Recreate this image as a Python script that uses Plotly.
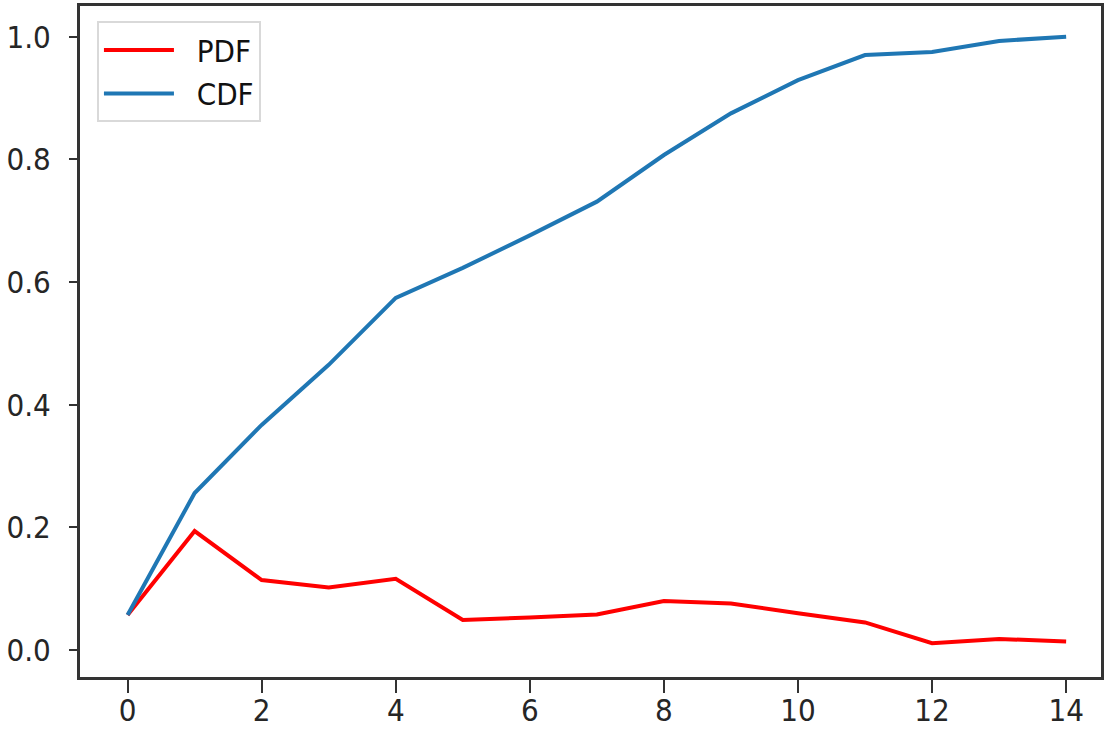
import plotly.graph_objects as go

x_vals = list(range(15))
pdf_vals = [0.057, 0.194, 0.114, 0.102, 0.116, 0.049, 0.053, 0.058, 0.080, 0.076, 0.060, 0.045, 0.011, 0.018, 0.014]
cdf_vals = [0.057, 0.256, 0.367, 0.465, 0.574, 0.623, 0.676, 0.731, 0.807, 0.875, 0.929, 0.970, 0.975, 0.993, 1.000]
x_ticks = [0, 2, 4, 6, 8, 10, 12, 14]
y_ticks = [0.0, 0.2, 0.4, 0.6, 0.8, 1.0]
y_tick_text = ["0.0", "0.2", "0.4", "0.6", "0.8", "1.0"]
series_names = ["PDF", "CDF"]

FONT = "DejaVu Sans Condensed, DejaVu Sans, sans-serif"
SPINE = "#333333"
PAD = "\u00a0\u00a0"

fig = go.Figure()
fig.add_trace(go.Scatter(x=x_vals, y=pdf_vals, mode="lines", name=PAD + series_names[0],
                         line=dict(color="#ff0000", width=4)))
fig.add_trace(go.Scatter(x=x_vals, y=cdf_vals, mode="lines", name=PAD + series_names[1],
                         line=dict(color="#1f77b4", width=4)))

fig.update_layout(
    width=1104, height=729,
    margin=dict(l=80, r=3, t=6, b=52),
    paper_bgcolor="white", plot_bgcolor="white",
    font=dict(family=FONT, size=31, color="#262626"),
    showlegend=True,
    legend=dict(
        x=0.0166, y=0.977, xanchor="left", yanchor="top",
        bgcolor="white", bordercolor="#d9d9d9", borderwidth=2,
        font=dict(family=FONT, size=31, color="#111111"),
        itemwidth=70,
        tracegroupgap=0,
    ),
    xaxis=dict(
        range=[-0.71, 14.52], tickmode="array", tickvals=x_ticks,
        showgrid=False, zeroline=False, automargin=False,
        showline=True, linecolor=SPINE, linewidth=3, mirror=True,
        ticks="outside", ticklen=13, tickwidth=2, tickcolor=SPINE,
        ticklabelstandoff=-9,
    ),
    yaxis=dict(
        range=[-0.044, 1.05], tickmode="array", tickvals=y_ticks, ticktext=y_tick_text,
        showgrid=False, zeroline=False, automargin=False,
        showline=True, linecolor=SPINE, linewidth=3, mirror=True,
        ticks="outside", ticklen=8, tickwidth=2, tickcolor=SPINE,
        ticklabelstandoff=12,
    ),
)

fig.write_html("out.html")
